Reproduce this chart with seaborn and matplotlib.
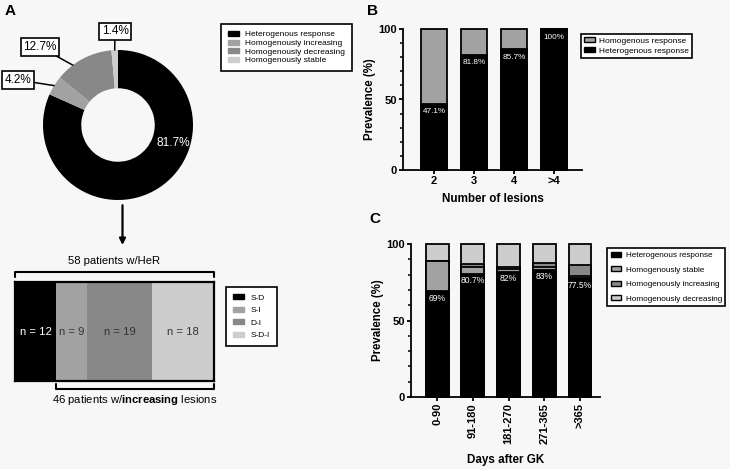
import numpy as np
import pandas as pd
import matplotlib.pyplot as plt
from matplotlib.patches import Patch
from matplotlib.ticker import MultipleLocator
import seaborn as sns

# ---- data ----
# panel A, donut
resp_labels = ['Heterogenous response', 'Homogenously increasing',
               'Homogenously decreasing', 'Homogenously stable']
resp_pct = [81.7, 4.2, 12.7, 1.4]

# panel A, sub-groups of heterogenous responders
sub_labels = ['S-D', 'S-I', 'D-I', 'S-D-I']
sub_n = [12, 9, 19, 18]

# panel B
lesion_cats = ['2', '3', '4', '>4']
lesion_het = [47.1, 81.8, 85.7, 100]
lesion_homo = [52.9, 18.2, 14.3, 0]
lesion_het_txt = ['47.1%', '81.8%', '85.7%', '100%']

# panel C
day_cats = ['0-90', '91-180', '181-270', '271-365', '>365']
day_het = [69, 80.7, 82, 83, 77.5]
day_stable = [20, 4.5, 1.5, 2, 1.5]
day_incr = [0, 1.5, 1.5, 2.5, 7]
day_decr = [11, 13.3, 15, 12.5, 14]
day_het_txt = ['69%', '80.7%', '82%', '83%', '77.5%']

BLACK = '#000000'
LGRAY = '#a2a2a2'
MGRAY = '#888888'
PGRAY = '#cdcdcd'
BG = '#f7f7f7'

sns.set_theme(style='ticks', rc={'axes.edgecolor': 'black', 'xtick.color': 'black',
                                 'ytick.color': 'black', 'text.color': 'black',
                                 'axes.labelcolor': 'black'})
plt.rcParams['font.family'] = ['Liberation Sans', 'DejaVu Sans']
plt.rcParams['mathtext.fontset'] = 'custom'
plt.rcParams['mathtext.rm'] = 'Liberation Sans'
plt.rcParams['mathtext.bf'] = 'Liberation Sans:bold'

W, H = 730, 469
fig = plt.figure(figsize=(W / 100, H / 100), dpi=100, facecolor=BG)


def px_axes(l, t, r, b):
    return fig.add_axes([l / W, 1 - b / H, (r - l) / W, (b - t) / H])


def fig_xy(px, py):
    return (px / W, 1 - py / H)


def leg_box(leg):
    fr = leg.get_frame()
    fr.set_edgecolor('black')
    fr.set_linewidth(1.2)
    fr.set_facecolor('white')


LEG_FS = 6.0

# ---- panel A donut ----
ax = px_axes(43, 50, 193, 200)
ax.set_facecolor(BG)
wedges, _ = ax.pie(resp_pct, colors=[BLACK, LGRAY, MGRAY, PGRAY], startangle=90,
                   counterclock=False, radius=1,
                   wedgeprops=dict(width=0.51, edgecolor='none'))
ax.set_xlim(-1, 1)
ax.set_ylim(-1, 1)
ax.set_aspect('equal')
ax.axis('off')

box = dict(boxstyle='square,pad=0.22', fc='white', ec='black', lw=1.2)
label_spots = {1: ((-1.33, 0.60), 0.5), 2: ((-1.04, 1.04), 0.7), 3: ((-0.04, 1.25), 0.5)}
for i, (txt_xy, frac) in label_spots.items():
    w = wedges[i]
    ang = np.deg2rad(w.theta1 + frac * (w.theta2 - w.theta1))
    ax.annotate(f'{resp_pct[i]}%', xy=(np.cos(ang), np.sin(ang)), xytext=txt_xy,
                ha='center', va='center', fontsize=8.5, bbox=box,
                arrowprops=dict(arrowstyle='-', lw=1.1, color='black', shrinkA=0, shrinkB=0),
                annotation_clip=False)
ang0 = np.deg2rad(-18)
ax.text(0.77 * np.cos(ang0), 0.77 * np.sin(ang0), f'{resp_pct[0]}%', color='white',
        ha='center', va='center', fontsize=8.6)
ax.annotate('', xy=(0.06, -1.6), xytext=(0.06, -1.07), annotation_clip=False,
            arrowprops=dict(arrowstyle='-|>', lw=1.6, color='black', mutation_scale=9,
                            shrinkA=0, shrinkB=0))

legA = fig.legend([Patch(color=c) for c in [BLACK, LGRAY, MGRAY, PGRAY]], resp_labels,
                  loc='upper left', bbox_to_anchor=fig_xy(217, 20), fontsize=LEG_FS,
                  fancybox=False, handlelength=1.3, handleheight=0.55, labelspacing=0.15,
                  borderpad=0.8, handletextpad=0.8, framealpha=1)
leg_box(legA)

# ---- panel A bar of sub-groups ----
axs = px_axes(15, 282, 214, 381)
left = np.concatenate([[0], np.cumsum(sub_n)[:-1]])
sub_cols = [BLACK, LGRAY, MGRAY, PGRAY]
for n, l0, c in zip(sub_n, left, sub_cols):
    axs.barh(0, n, left=l0, height=1, color=c, edgecolor='none')
    axs.text(l0 + n / 2, 0, f'n = {n}', ha='center', va='center', fontsize=8.1,
             color='white' if c == BLACK else '#333333')
axs.set_xlim(0, sum(sub_n))
axs.set_ylim(-0.5, 0.5)
axs.set_xticks([])
axs.set_yticks([])
for s in axs.spines.values():
    s.set_linewidth(1.6)
tot = sum(sub_n)
axs.plot([0, 0, tot, tot], [0.55, 0.6, 0.6, 0.55], color='black', lw=1.5, clip_on=False)
axs.text(tot / 2, 0.71, f'{tot} patients w/HeR', ha='center', va='center', fontsize=8.1)
incr_n = tot - sub_n[0]
axs.plot([sub_n[0], sub_n[0], tot, tot], [-0.53, -0.58, -0.58, -0.53], color='black',
         lw=1.5, clip_on=False)
axs.text((sub_n[0] + tot) / 2, -0.69, rf'{incr_n} patients w/$\bf{{increasing}}$ lesions',
         ha='center', va='center', fontsize=8.1)

legS = fig.legend([Patch(color=c) for c in sub_cols], sub_labels, loc='upper left',
                  bbox_to_anchor=fig_xy(222, 283), fontsize=LEG_FS, fancybox=False,
                  handlelength=1.3, handleheight=0.55, labelspacing=0.6, borderpad=0.85,
                  handletextpad=0.8, framealpha=1)
leg_box(legS)


def style_axis(a):
    a.set_facecolor(BG)
    a.set_ylim(0, 100)
    a.set_yticks([0, 50, 100])
    a.yaxis.set_minor_locator(MultipleLocator(10))
    a.tick_params(axis='both', which='major', length=3.2, width=1.3, labelsize=8, pad=1.2)
    a.tick_params(axis='y', which='minor', length=2, width=1.1)
    for lab in a.get_xticklabels() + a.get_yticklabels():
        lab.set_fontweight('bold')
    sns.despine(ax=a)
    for s in ('left', 'bottom'):
        a.spines[s].set_linewidth(1.3)
    for p in a.patches:
        p.set_clip_on(False)
    a.set_ylabel('Prevalence (%)', fontsize=8.3, fontweight='bold', labelpad=1.5)


# ---- panel B ----
axb = px_axes(403, 29, 582, 170)
b_layers = [(np.add(lesion_het, lesion_homo), LGRAY), (np.array(lesion_het), BLACK)]
for vals, c in b_layers:
    sns.barplot(x=lesion_cats, y=vals, color=c, saturation=1, width=0.65, errorbar=None,
                edgecolor='black', linewidth=1.3, ax=axb)
for i, (v, t) in enumerate(zip(lesion_het, lesion_het_txt)):
    axb.text(i, v - 5.7, t, color='white', ha='center', va='center', fontsize=5.9)
axb.set_xlim(-0.78, 3.7)
style_axis(axb)
axb.set_xlabel('Number of lesions', fontsize=8.4, fontweight='bold', labelpad=5)

legB = fig.legend([Patch(fc=LGRAY, ec='black', lw=1), Patch(fc=BLACK, ec='black')],
                  ['Homogenous response', 'Heterogenous response'], loc='upper left',
                  bbox_to_anchor=fig_xy(577, 30), fontsize=LEG_FS, fancybox=False,
                  handlelength=1.3, handleheight=0.6, labelspacing=0.3, borderpad=0.35,
                  handletextpad=0.5, framealpha=1)
leg_box(legB)

# ---- panel C ----
axc = px_axes(411, 244, 600, 397)
c1 = np.array(day_het)
c2 = c1 + np.array(day_stable)
c3 = c2 + np.array(day_incr)
c4 = c3 + np.array(day_decr)
for vals, c in [(c4, PGRAY), (c3, MGRAY), (c2, LGRAY), (c1, BLACK)]:
    sns.barplot(x=day_cats, y=vals, color=c, saturation=1, width=0.64, errorbar=None,
                edgecolor='black', linewidth=1.3, ax=axc)
for i, (v, t) in enumerate(zip(day_het, day_het_txt)):
    axc.text(i, v - 4.5, t, color='white', ha='center', va='center', fontsize=6.2)
axc.set_xlim(-0.73, 4.56)
style_axis(axc)
axc.tick_params(axis='x', labelrotation=90)
axc.set_xlabel('Days after GK', fontsize=8.4, fontweight='bold', labelpad=7)

legC = fig.legend([Patch(fc=BLACK, ec='black'), Patch(fc=LGRAY, ec='black', lw=1),
                   Patch(fc=MGRAY, ec='black', lw=1), Patch(fc=PGRAY, ec='black', lw=1)],
                  ['Heterogenous response', 'Homogenously stable',
                   'Homogenously increasing', 'Homogenously decreasing'],
                  loc='upper left', bbox_to_anchor=fig_xy(603, 244), fontsize=5.9,
                  fancybox=False, handlelength=1.2, handleheight=0.6, labelspacing=0.85,
                  borderpad=0.45, handletextpad=0.6, framealpha=1)
leg_box(legC)

# panel letters
for letter, (px, py) in [('A', (5, 4)), ('B', (367, 4)), ('C', (369, 212))]:
    fig.text(*fig_xy(px, py), letter, fontsize=11, fontweight='bold', ha='left', va='top')

fig.savefig('out.png', dpi=100, facecolor=BG)
